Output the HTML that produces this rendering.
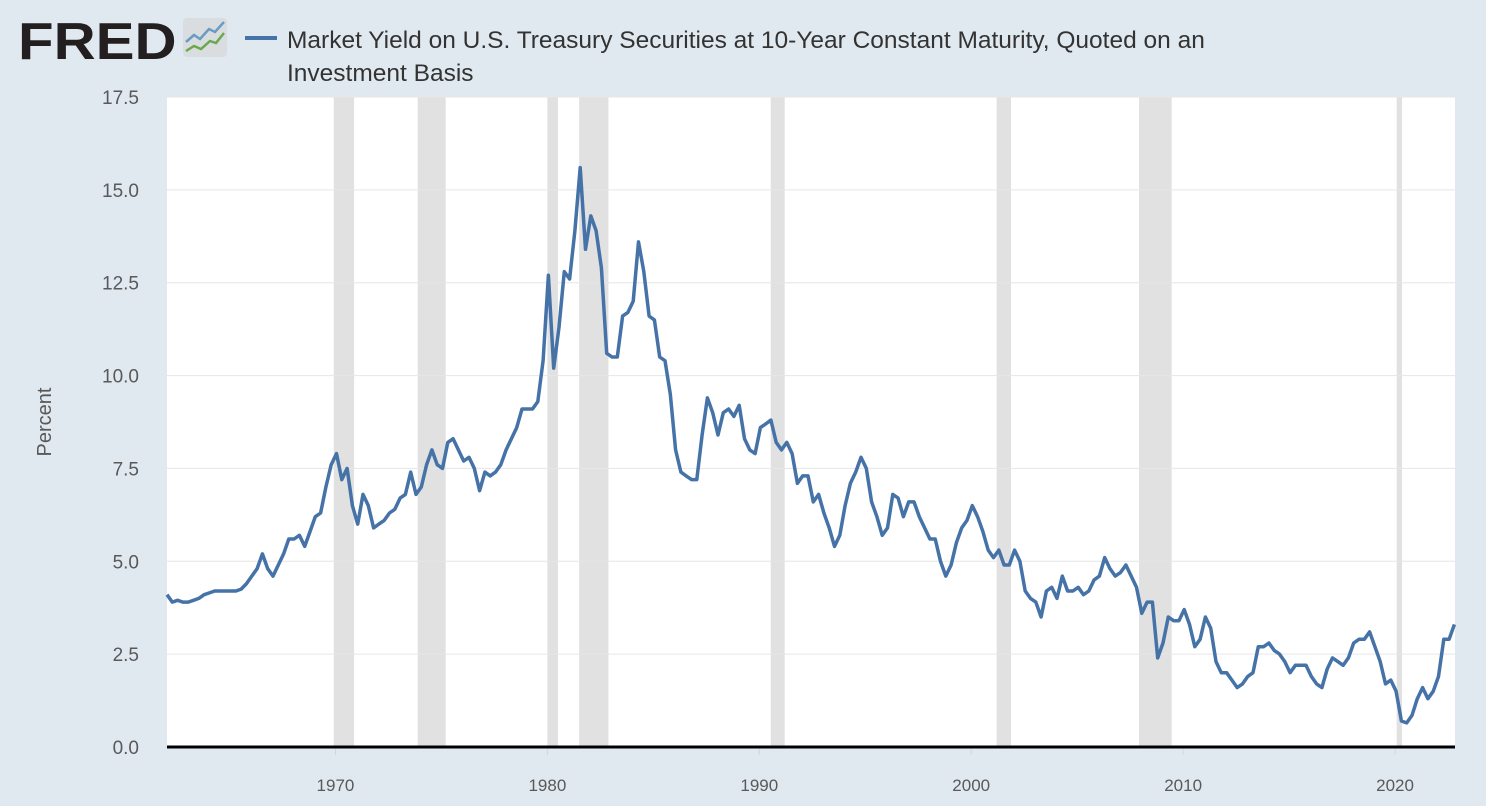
<!DOCTYPE html>
<html><head><meta charset="utf-8"><style>
body{margin:0;width:1486px;height:806px;background:#e1e9f0;font-family:"Liberation Sans",sans-serif;overflow:hidden;position:relative}
.logo{position:absolute;left:18px;top:12px;font-size:52px;font-weight:900;color:#231f20;letter-spacing:0px;font-family:"Liberation Sans",sans-serif;transform:scaleX(1.12);transform-origin:left top}
.title{position:absolute;left:287px;top:24px;font-size:24.5px;line-height:33px;color:#333;width:960px}
</style></head><body>
<div class="logo">FRED</div>
<svg style="position:absolute;left:183px;top:18px" width="45" height="40">
<rect x="0" y="0" width="44" height="39" rx="4" fill="#d9dde0"/>
<polyline points="3,24 11,17 17,21 26,11 32,14 41,4" fill="none" stroke="#6a9bc3" stroke-width="2.5"/>
<polyline points="3,33 11,28 18,31 27,23 33,25 41,15" fill="none" stroke="#6aa84f" stroke-width="2.5"/>
</svg>
<div class="title"><span style="display:inline-block;width:32px;height:4px;background:#4572a7;position:absolute;left:-42px;top:12px"></span>Market Yield on U.S. Treasury Securities at 10-Year Constant Maturity, Quoted on an Investment Basis</div>
<svg id="chart" width="1486" height="806" style="position:absolute;left:0;top:0"></svg>
<script>
const recStart=[1969.92,1973.88,1980.0,1981.5,1990.54,2001.2,2007.92,2020.08];
const recEnd=[1970.88,1975.2,1980.5,1982.88,1991.2,2001.88,2009.46,2020.33];
const yTicks=[0,2.5,5,7.5,10,12.5,15,17.5];
const xTicks=[1970,1980,1990,2000,2010,2020];
const startYear=1962;
const values=[4.1,3.9,3.95,3.9, 3.9,3.95,4.0,4.1, 4.15,4.2,4.2,4.2, 4.2,4.2,4.25,4.4, 4.6,4.8,5.2,4.8, 4.6,4.9,5.2,5.6, 5.6,5.7,5.4,5.8, 6.2,6.3,7.0,7.6,
7.9,7.2,7.5,6.5, 6.0,6.8,6.5,5.9, 6.0,6.1,6.3,6.4, 6.7,6.8,7.4,6.8, 7.0,7.6,8.0,7.6, 7.5,8.2,8.3,8.0, 7.7,7.8,7.5,6.9, 7.4,7.3,7.4,7.6, 8.0,8.3,8.6,9.1, 9.1,9.1,9.3,10.4,
12.7,10.2,11.3,12.8, 12.6,13.9,15.6,13.4, 14.3,13.9,12.9,10.6, 10.5,10.5,11.6,11.7, 12.0,13.6,12.8,11.6, 11.5,10.5,10.4,9.5, 8.0,7.4,7.3,7.2, 7.2,8.4,9.4,9.0, 8.4,9.0,9.1,8.9, 9.2,8.3,8.0,7.9,
8.6,8.7,8.8,8.2, 8.0,8.2,7.9,7.1, 7.3,7.3,6.6,6.8, 6.3,5.9,5.4,5.7, 6.5,7.1,7.4,7.8, 7.5,6.6,6.2,5.7, 5.9,6.8,6.7,6.2, 6.6,6.6,6.2,5.9, 5.6,5.6,5.0,4.6, 4.9,5.5,5.9,6.1,
6.5,6.2,5.8,5.3, 5.1,5.3,4.9,4.9, 5.3,5.0,4.2,4.0, 3.9,3.5,4.2,4.3, 4.0,4.6,4.2,4.2, 4.3,4.1,4.2,4.5, 4.6,5.1,4.8,4.6, 4.7,4.9,4.6,4.3, 3.6,3.9,3.9,2.4, 2.8,3.5,3.4,3.4,
3.7,3.3,2.7,2.9, 3.5,3.2,2.3,2.0, 2.0,1.8,1.6,1.7, 1.9,2.0,2.7,2.7, 2.8,2.6,2.5,2.3, 2.0,2.2,2.2,2.2, 1.9,1.7,1.6,2.1, 2.4,2.3,2.2,2.4, 2.8,2.9,2.9,3.1, 2.7,2.3,1.7,1.8,
1.5,0.7,0.65,0.85, 1.3,1.6,1.3,1.5, 1.9,2.9,2.9,3.3];
const L=167,R=1455,T=97,B=747,x0=1962.05,x1=2022.83;
const X=v=>L+(v-x0)/(x1-x0)*(R-L);
const Y=v=>B-v/17.5*(B-T);
const svg=document.getElementById('chart');const NS='http://www.w3.org/2000/svg';
function mk(t,a){const e=document.createElementNS(NS,t);for(const k in a)e.setAttribute(k,a[k]);svg.appendChild(e);return e;}
let e=mk('rect',{x:L,y:T,width:R-L,height:B-T,fill:'#fff'});


recStart.forEach((s,i)=>{const r=mk('rect',{x:X(s),y:T,width:X(recEnd[i])-X(s),height:B-T,fill:'#e1e1e1'});

});
yTicks.forEach(v=>{if(v>0){const g=mk('line',{x1:L,x2:R,y1:Y(v),y2:Y(v),stroke:'#e6e6e6','stroke-width':1});

}
const t=mk('text',{x:139,y:Y(v)+7,'text-anchor':'end','font-size':19,fill:'#595959','font-family':'Liberation Sans'});t.textContent=v.toFixed(1);

});
xTicks.forEach(v=>{const k=mk('line',{x1:X(v),x2:X(v),y1:B,y2:B+8,stroke:'#ccd6eb'});


const t=mk('text',{x:X(v),y:791,'text-anchor':'middle','font-size':17,fill:'#595959','font-family':'Liberation Sans'});t.textContent=v;

});
const yl=mk('text',{x:0,y:0,transform:'translate(51,422) rotate(-90)','text-anchor':'middle','font-size':20,fill:'#595959','font-family':'Liberation Sans'});yl.textContent='Percent';


const pts=values.map((v,i)=>X(startYear+i*0.25+0.05).toFixed(1)+','+Y(v).toFixed(1)).join(' ');
const ln=mk('polyline',{points:pts,fill:'none',stroke:'#4572a7','stroke-width':3.5,'stroke-linejoin':'round'});


const ax=mk('line',{x1:L,x2:R,y1:B,y2:B,stroke:'#000','stroke-width':3});


</script>
</body></html>
